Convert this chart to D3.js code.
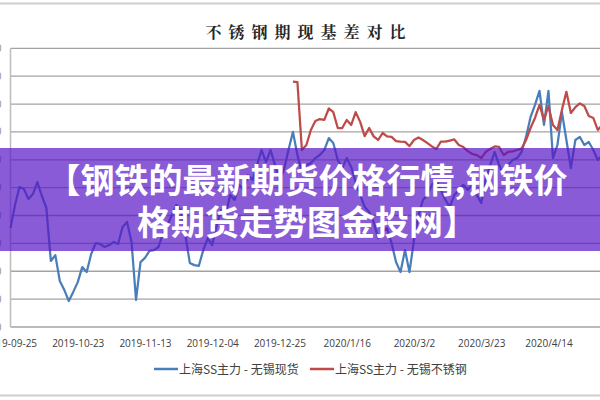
<!DOCTYPE html>
<html>
<head>
<meta charset="utf-8">
<script src="https://cdn.jsdelivr.net/npm/d3@7"></script>
<style>
html, body { margin: 0; padding: 0; background: #fff; overflow: hidden; }
svg { display: block; }
</style>
</head>
<body>
<div class="content"></div>
<script>
const w = 600;
const h = 400;

const title = '不锈钢期现基差对比';
const seriesNames = ['上海SS主力 - 无锡现货', '上海SS主力 - 无锡不锈钢'];
const seriesColors = ['#4a7ebb', '#be4b48'];

// every 15th trading day gets a label
const tickLabels = ['2019-09-25', '2019-10-23', '2019-11-13', '2019-12-04', '2019-12-25',
	'2020/1/16', '2020/3/2', '2020/3/23', '2020/4/14'];
const tickEvery = 15;

const yTicks = [-400, -300, -200, -100, 0, 100, 200, 300, 400, 500, 600];

// 上海SS主力 - 无锡现货
const spotBasis = [
	-45, 38, 102, 95, 59, 77, 120, 70, 27, -163,
	-142, -235, -267, -307, -274, -239, -185, -203, -138, -99,
	-102, -113, -106, -95, -102, -41, -23, -95, -303, -167,
	-152, -127, -124, -113, -66, -34, 2, 38, 20, -70,
	-170, -178, -181, -124, -81, -106, -34, 20, 2, 74,
	56, 110, 92, 145, 127, 181, 235, 192, 235, 181,
	127, 163, 235, 300, 217, 156, 181, 188, 206, 217,
	235, 278, 260, 199, 170, 206, 174, 120, 74, 31,
	13, -23, -81, -59, -45, -99, -167, -203, -124, -203,
	-88, 2, 56, 74, 110, 127, 92, 56, 31, 74,
	92, 110, 92, 110, 74, 45, 127, 181, 228, 181,
	145, 181, 199, 206, 228, 282, 353, 397, 447, 325,
	447, 206, 253, 371, 271, 170, 271, 282, 253, 264,
	235, 199, 217
];

// 上海SS主力 - 无锡不锈钢, starts later
const steelStart = 63;
const steelBasis = [
	480, 479, 235, 253, 307, 339, 346, 343, 384, 371,
	314, 314, 343, 325, 371, 336, 285, 314, 284, 271,
	296, 284, 282, 267, 265, 264, 249, 271, 280, 271,
	260, 248, 239, 265, 265, 269, 273, 253, 246, 231,
	221, 217, 206, 228, 239, 248, 246, 217, 228, 230,
	235, 240, 271, 314, 350, 397, 343, 393, 325, 307,
	379, 444, 368, 389, 402, 393, 357, 350, 307, 325
];

const banner = ['【钢铁的最新期货价格行情,钢铁价', '格期货走势图金投网】'];

const svg = d3.select('.content').append('svg')
	.attr('width', w)
	.attr('height', h)
	.style('font-family', '"Noto Sans CJK SC", "Open Sans", sans-serif');

// frame of the original picture
svg.append('line').attr('x1', 0).attr('x2', w).attr('y1', 3.5).attr('y2', 3.5)
	.attr('stroke', '#cfcfcf').attr('stroke-width', 2);
svg.append('line').attr('x1', 0).attr('x2', w).attr('y1', 395.5).attr('y2', 395.5)
	.attr('stroke', '#cfcfcf').attr('stroke-width', 2);

const x = d3.scaleLinear()
	.domain([0, 135])
	.range([10.5, 10.5 + 135 * 4.483]);

const y = d3.scaleLinear()
	.domain([-400, 600])
	.range([327, 48.3]);

svg.append('text')
	.attr('x', 309)
	.attr('y', 38)
	.attr('text-anchor', 'middle')
	.attr('font-family', '"Noto Serif CJK SC", "Noto Sans CJK SC", serif')
	.attr('font-size', 16)
	.attr('font-weight', 700)
	.attr('letter-spacing', 7)
	.attr('fill', '#262626')
	.text(title);

// grid
svg.append('g')
	.selectAll('line')
	.data(yTicks)
	.enter()
	.append('line')
	.attr('x1', x(0))
	.attr('x2', x(135))
	.attr('y1', d => y(d))
	.attr('y2', d => y(d))
	.attr('stroke', '#a3a3a3')
	.attr('stroke-width', 1.3);

svg.append('line')
	.attr('x1', x(0)).attr('x2', x(0))
	.attr('y1', y(600)).attr('y2', y(-400))
	.attr('stroke', '#bdbdbd')
	.attr('stroke-width', 1.5);

// y labels are cut off by the left edge, only a sliver shows
svg.append('g')
	.selectAll('text')
	.data(yTicks)
	.enter()
	.append('text')
	.attr('x', 1.5)
	.attr('y', d => y(d) + 3.5)
	.attr('text-anchor', 'end')
	.attr('font-family', '"Open Sans", sans-serif')
	.attr('font-size', 10)
	.attr('fill', '#8c8c8c')
	.text(d => d);

svg.append('g')
	.selectAll('text')
	.data(tickLabels)
	.enter()
	.append('text')
	.attr('x', (d, i) => x(i * tickEvery) + 0.5)
	.attr('y', 346.5)
	.attr('text-anchor', 'middle')
	.attr('font-family', '"Open Sans", sans-serif')
	.attr('font-size', 10)
	.attr('fill', '#404040')
	.text(d => d);

const line = d3.line()
	.x(d => x(d.i))
	.y(d => y(d.v));

svg.append('path')
	.datum(spotBasis.map((v, i) => ({ i: i, v: v })))
	.attr('d', line)
	.attr('fill', 'none')
	.attr('stroke', seriesColors[0])
	.attr('stroke-width', 2.25)
	.attr('stroke-linejoin', 'round');

svg.append('path')
	.datum(steelBasis.map((v, j) => ({ i: steelStart + j, v: v })))
	.attr('d', line)
	.attr('fill', 'none')
	.attr('stroke', seriesColors[1])
	.attr('stroke-width', 2.25)
	.attr('stroke-linejoin', 'round');

// legend
const legendPos = [[154, 179], [310, 335]];
const legend = svg.append('g')
	.selectAll('g')
	.data(seriesNames)
	.enter()
	.append('g');

legend.append('line')
	.attr('x1', (d, i) => legendPos[i][0])
	.attr('x2', (d, i) => legendPos[i][0] + 24)
	.attr('y1', 369)
	.attr('y2', 369)
	.attr('stroke', (d, i) => seriesColors[i])
	.attr('stroke-width', 2.5);

legend.append('text')
	.attr('x', (d, i) => legendPos[i][1])
	.attr('y', 373.5)
	.attr('font-size', 12)
	.attr('fill', '#404040')
	.text(d => d);

// purple banner on top
svg.append('rect')
	.attr('x', 0)
	.attr('y', 148)
	.attr('width', w)
	.attr('height', 103)
	.attr('fill', 'rgb(89,22,196)')
	.attr('fill-opacity', 0.7);

svg.append('g')
	.selectAll('text')
	.data(banner)
	.enter()
	.append('text')
	.attr('x', 307)
	.attr('y', (d, i) => 193 + i * 42)
	.attr('text-anchor', 'middle')
	.attr('font-size', 34)
	.attr('font-weight', 700)
	.attr('fill', '#fff')
	.text(d => d);
</script>
</body>
</html>
